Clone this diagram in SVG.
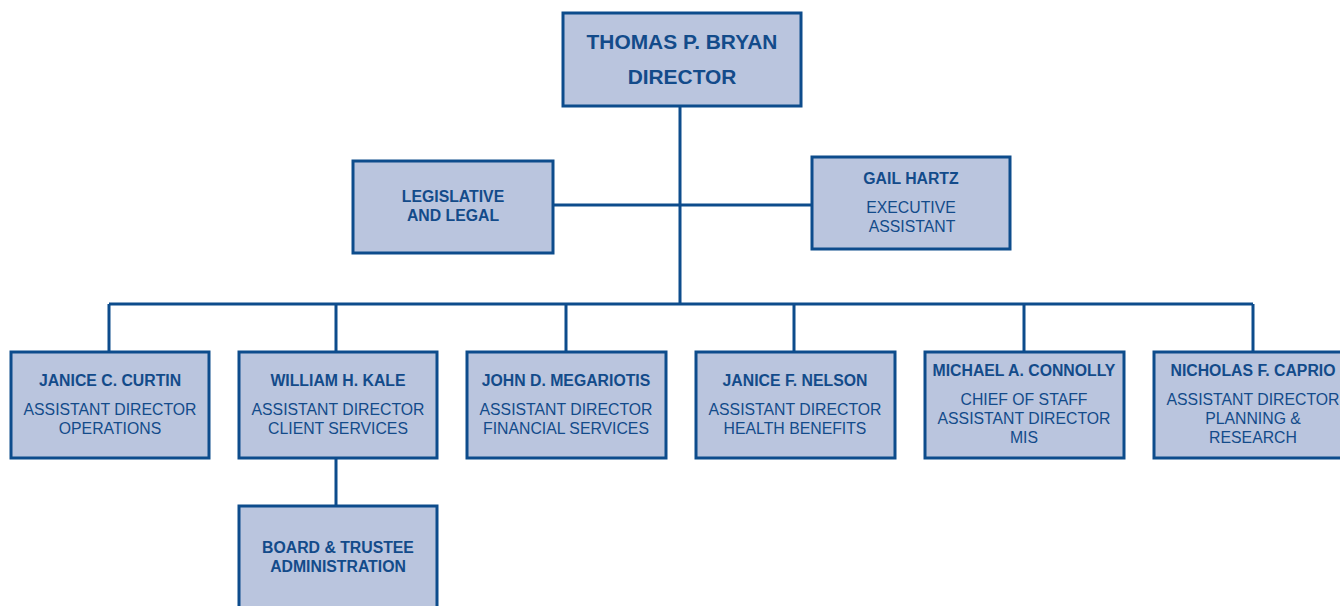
<svg xmlns="http://www.w3.org/2000/svg" width="1340" height="606" viewBox="0 0 1340 606">
<style>
.box{fill:#bac5de;stroke:#0d4c8c;stroke-width:3}
.ln{stroke:#0d4c8c;stroke-width:3;fill:none}
text{font-family:"Liberation Sans",Arial,sans-serif;fill:#134b8a;text-anchor:middle}
.b{font-weight:bold;font-size:15.8px}
.r{font-size:15.8px}
.big{font-weight:bold;font-size:20.9px}
</style>
<rect width="1340" height="606" fill="#ffffff"/>
<g id="connectors">
<path class="ln" d="M680 106V304M553 205H812M109 304H1253M109 304V352M336 304V352M566 304V352M794 304V352M1024 304V352M1253 304V352M336 458V506"/>
</g>
<g id="director"><rect class="box" x="563" y="13" width="238" height="93"/><text class="big" x="682" y="49">THOMAS P. BRYAN</text><text class="big" x="682" y="84">DIRECTOR</text></g>
<g id="legislative"><rect class="box" x="353" y="161" width="200" height="92"/><text class="b" x="453" y="202">LEGISLATIVE</text><text class="b" x="453" y="221">AND LEGAL</text></g>
<g id="hartz"><rect class="box" x="812" y="157" width="198" height="92"/><text class="b" x="911" y="184">GAIL HARTZ</text><text class="r" x="911" y="213">EXECUTIVE</text><text class="r" x="912" y="232">ASSISTANT</text></g>
<g id="curtin"><rect class="box" x="11" y="352" width="198" height="106"/><text class="b" x="110" y="386">JANICE C. CURTIN</text><text class="r" x="110" y="415">ASSISTANT DIRECTOR</text><text class="r" x="110" y="434">OPERATIONS</text></g>
<g id="kale"><rect class="box" x="239" y="352" width="198" height="106"/><text class="b" x="338" y="386">WILLIAM H. KALE</text><text class="r" x="338" y="415">ASSISTANT DIRECTOR</text><text class="r" x="338" y="434">CLIENT SERVICES</text></g>
<g id="megariotis"><rect class="box" x="467" y="352" width="199" height="106"/><text class="b" x="566" y="386">JOHN D. MEGARIOTIS</text><text class="r" x="566" y="415">ASSISTANT DIRECTOR</text><text class="r" x="566" y="434">FINANCIAL SERVICES</text></g>
<g id="nelson"><rect class="box" x="696" y="352" width="199" height="106"/><text class="b" x="795" y="386">JANICE F. NELSON</text><text class="r" x="795" y="415">ASSISTANT DIRECTOR</text><text class="r" x="795" y="434">HEALTH BENEFITS</text></g>
<g id="connolly"><rect class="box" x="925" y="352" width="199" height="106"/><text class="b" x="1024" y="376">MICHAEL A. CONNOLLY</text><text class="r" x="1024" y="405">CHIEF OF STAFF</text><text class="r" x="1024" y="424">ASSISTANT DIRECTOR</text><text class="r" x="1024" y="443">MIS</text></g>
<g id="caprio"><rect class="box" x="1154" y="352" width="198" height="106"/><text class="b" x="1253" y="376">NICHOLAS F. CAPRIO</text><text class="r" x="1253" y="405">ASSISTANT DIRECTOR</text><text class="r" x="1253" y="424">PLANNING &amp;</text><text class="r" x="1253" y="443">RESEARCH</text></g>
<g id="board"><rect class="box" x="239" y="506" width="198" height="106"/><text class="b" x="338" y="553">BOARD &amp; TRUSTEE</text><text class="b" x="338" y="572">ADMINISTRATION</text></g>
</svg>
